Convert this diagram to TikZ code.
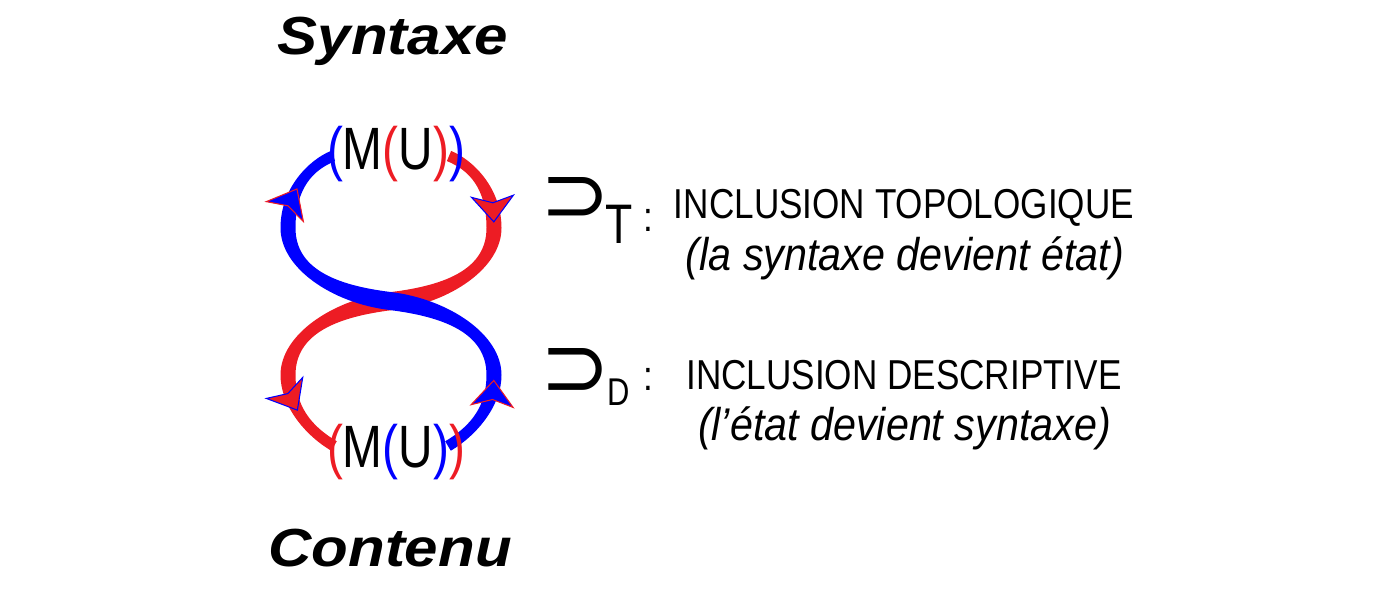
\documentclass[tikz,border=0pt]{standalone}
\usepackage{fontspec}
\setmainfont{Liberation Sans}
\newfontfamily\titlefont[FakeStretch=1.12]{Liberation Sans}
\newfontfamily\mufont[FakeStretch=0.8]{Liberation Sans}
\newfontfamily\capsfont[FakeStretch=0.84]{Liberation Sans}
\newfontfamily\notefont[FakeStretch=0.9]{Liberation Sans}
\newfontfamily\subfont[FakeStretch=0.8]{Liberation Sans}
\newfontfamily\symfont{DejaVu Sans}
\usetikzlibrary{arrows.meta,decorations.markings,positioning}
\definecolor{strandred}{RGB}{237,28,36}
\definecolor{strandblue}{RGB}{0,0,255}

\tikzset{
  title/.style={font=\titlefont\bfseries\itshape\fontsize{30.5}{35}\selectfont,inner sep=0,anchor=base},
  mu/.style={font=\mufont\fontsize{34}{40}\selectfont,inner sep=0,anchor=base},
  caps/.style={font=\capsfont\fontsize{23.8}{28}\selectfont,inner sep=0,anchor=base},
  note/.style={font=\notefont\itshape\fontsize{26.1}{30}\selectfont,inner sep=0,anchor=base},
  sym/.style={font=\symfont,inner sep=0},
  loopwise/.tip={Stealth[length=0.55cm,width=0.9cm,inset=0.14cm,line width=0.6pt]}
}

% one strand of the figure eight, drawn as a ribbon thick in the middle
\newcommand{\strand}[5]{%
  \fill[#1] (9.016,2.986) .. controls (9.556,3.306) and (10.03,3.90) .. (10.03,4.50)
    .. controls (10.03,5.32) and (8.961,6.019) .. (7.821,6.159)
    .. controls (6.681,6.299) and (5.91,6.64) .. (5.91,7.44)
    .. controls (5.91,8.24) and (6.262,8.599) .. (6.702,8.779)
    -- (6.618,8.981)
    .. controls (6.178,8.801) and (5.61,8.24) .. (5.61,7.44)
    .. controls (5.61,6.64) and (6.639,5.941) .. (7.779,5.801)
    .. controls (8.919,5.661) and (9.73,5.32) .. (9.73,4.50)
    .. controls (9.73,3.90) and (9.444,3.494) .. (8.904,3.174) -- cycle;
  \path[decorate,decoration={markings,
      mark=at position #3 with {#5{loopwise[color=#2,fill=#1]}},
      mark=at position #4 with {#5{loopwise[color=#2,fill=#1]}}}]
    (8.96,3.08) .. controls (9.50,3.40) and (9.88,3.90) .. (9.88,4.50)
    .. controls (9.88,5.32) and (8.94,5.84) .. (7.80,5.98)
    .. controls (6.66,6.12) and (5.76,6.64) .. (5.76,7.44)
    .. controls (5.76,8.24) and (6.22,8.70) .. (6.66,8.88);
}

\begin{document}
\begin{tikzpicture}

\useasboundingbox (0,0) rectangle (28,12);

%red strand, mirror of the blue one
\begin{scope}[xshift=15.64cm,xscale=-1]
\strand{strandred}{strandblue}{1.02cm}{-1.7cm}{\arrowreversed}
\end{scope}

%blue strand, on top at the crossing
\strand{strandblue}{strandred}{1.68cm}{-0.98cm}{\arrow}

%titles
\node[title] (syntaxe) at (7.86,10.9) {Syntaxe};
\node[title] (contenu) at (7.80,0.68) {Contenu};

%M(U) on each loop
\node[mu] (mutop) at (7.92,8.6) {\textcolor{strandblue}{(}M\textcolor{strandred}{(}U\textcolor{strandred}{)}\textcolor{strandblue}{)}};
\node[mu] (mubot) at (7.92,2.66) {\textcolor{strandred}{(}M\textcolor{strandblue}{(}U\textcolor{strandblue}{)}\textcolor{strandred}{)}};

%inclusion T
\node[sym] (supT) at (11.50,8.01) {\resizebox{1.40cm}{0.90cm}{⊃}};
\node[inner sep=0,anchor=base,font=\subfont\fontsize{31.7}{36}\selectfont] (subT) at (12.38,7.14) {T};
\node[caps] (colT) at (12.96,7.36) {:};
\node[caps] (topo) at (18.08,7.63) {INCLUSION TOPOLOGIQUE};
\node[note] (toponote) at (18.10,6.60) {(la syntaxe devient état)};

%inclusion D
\node[sym] (supD) at (11.50,4.55) {\resizebox{1.40cm}{0.98cm}{⊃}};
\node[inner sep=0,anchor=base,font=\subfont\fontsize{22}{26}\selectfont] (subD) at (12.38,3.90) {D};
\node[caps] (colD) at (12.96,4.20) {:};
\node[caps] (descr) at (18.08,4.22) {INCLUSION DESCRIPTIVE};
\node[note] (descrnote) at (18.09,3.20) {(l’état devient syntaxe)};

\end{tikzpicture}
\end{document}
